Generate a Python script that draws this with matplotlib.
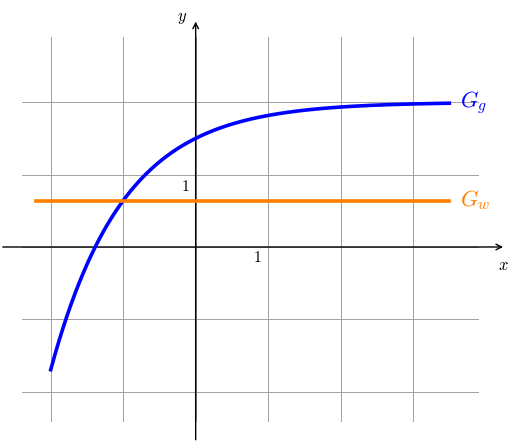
import numpy as np
import matplotlib
matplotlib.use("Agg")
import matplotlib.pyplot as plt
plt.rcParams['mathtext.fontset'] = 'cm'

# data
gg_x = np.linspace(-2, 3.5, 300)
gg_a, gg_b = 2.0, 0.5          # Gg(x) = a - b*exp(-x)
gw_value = 2 - np.e / 2        # horizontal line level
gw_x = [-2.2, 3.5]
grid_x = [-2, -1, 0, 1, 2, 3]
grid_y = [-2, -1, 0, 1, 2]

fig = plt.figure(figsize=(5.16, 4.44), dpi=100)
ax = fig.add_axes([0, 0, 1, 1])
ax.set_xlim(-2.70, 4.42)
ax.set_ylim(-2.72, 3.41)
ax.axis('off')

for gx in grid_x:
    ax.plot([gx, gx], [-2.4, 2.9], color='#a0a0a0', lw=0.7, zorder=1)
for gy in grid_y:
    ax.plot([-2.4, 3.9], [gy, gy], color='#a0a0a0', lw=0.7, zorder=1)

ax.annotate('', xy=(4.28, 0), xytext=(-2.7, 0),
            arrowprops=dict(arrowstyle='->', lw=1.0, color='black'), zorder=2)
ax.annotate('', xy=(0, 3.15), xytext=(0, -2.7),
            arrowprops=dict(arrowstyle='->', lw=1.0, color='black'), zorder=2)
ax.text(4.17, -0.12, '$x$', fontsize=12, ha='left', va='top')
ax.text(-0.12, 3.18, '$y$', fontsize=12, ha='right', va='center')
ax.text(0.85, -0.15, '$1$', fontsize=11, ha='center', va='center')
ax.text(-0.15, 0.84, '$1$', fontsize=11, ha='center', va='center')

ax.plot(gg_x, gg_a - gg_b * np.exp(-gg_x), color=(0, 0, 1), lw=2.6, zorder=3)
ax.plot(gw_x, [gw_value, gw_value], color=(1, 0.5, 0), lw=2.6, zorder=3)
ax.text(3.65, 2.0, '$G_g$', color=(0, 0, 1), fontsize=16, ha='left', va='center')
ax.text(3.65, gw_value, '$G_w$', color=(1, 0.5, 0), fontsize=16, ha='left', va='center')

fig.savefig('out.png', dpi=100)
